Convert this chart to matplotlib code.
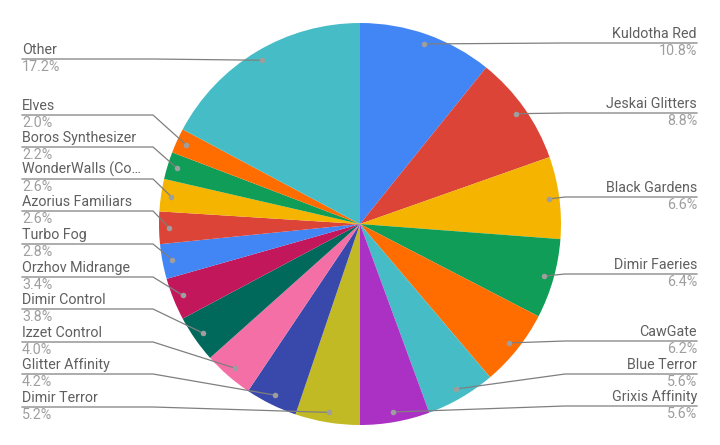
import numpy as np
import matplotlib
matplotlib.use("Agg")
import matplotlib.pyplot as plt

decks = ["Kuldotha Red", "Jeskai Glitters", "Black Gardens", "Dimir Faeries", "CawGate",
         "Blue Terror", "Grixis Affinity", "Dimir Terror", "Glitter Affinity", "Izzet Control",
         "Dimir Control", "Orzhov Midrange", "Turbo Fog", "Azorius Familiars",
         "WonderWalls (Co\u2026", "Boros Synthesizer", "Elves", "Other"]
share = [10.8, 8.8, 6.6, 6.4, 6.2, 5.6, 5.6, 5.2, 4.2, 4.0, 3.8, 3.4, 2.8, 2.6, 2.6, 2.2, 2.0, 17.2]

colors = ["#4285F4", "#DB4437", "#F4B400", "#0F9D58", "#FF6D01", "#46BDC6", "#AB30C4",
          "#C1BA24", "#3949AB", "#F46FA6", "#00695C", "#C2185B",
          "#4285F4", "#DB4437", "#F4B400", "#0F9D58", "#FF6D01", "#46BDC6"]

# label line heights (pixels from top), in slice order
label_y = [43, 113, 197, 274, 341, 374, 406, 407, 374, 342, 309, 277, 244, 211, 179, 147, 115, 59]

W, H = 720, 445
cx, cy, r = 360, H - 224, 201

plt.rcParams['font.family'] = ['Roboto', 'DejaVu Sans']
fig = plt.figure(figsize=(7.2, 4.45), dpi=100)
ax = fig.add_axes([0, 0, 1, 1])

wedges, _ = ax.pie(share, colors=colors, startangle=90, counterclock=False,
                   center=(cx, cy), radius=r, frame=True,
                   wedgeprops=dict(linewidth=0))
ax.set_xlim(0, W)
ax.set_ylim(0, H)
ax.set_aspect('auto')
ax.axis('off')

for w, name, v, ly in zip(wedges, decks, share, label_y):
    a = np.deg2rad((w.theta1 + w.theta2) / 2)
    dx = cx + 0.95 * r * np.cos(a)
    dy = cy + 0.95 * r * np.sin(a)
    y = H - ly
    if np.cos(a) > 0:
        xe, xt, ha = 565, 697, 'right'
    else:
        xe, xt, ha = 153, 22, 'left'
    ax.plot([dx, xe, xt], [dy, y, y], color='#7f7f7f', lw=0.9, zorder=3)
    ax.plot(dx, dy, 'o', ms=4, color='#9e9e9e', mec='none', zorder=4)
    ax.text(xt, y + 2, name, ha=ha, va='bottom', fontsize=10.3, color='#5f5f5f')
    ax.text(xt, y - 1, f"{v:.1f}%", ha=ha, va='top', fontsize=10.3, color='#9e9e9e')

fig.savefig("out.png", dpi=100, facecolor='white')
